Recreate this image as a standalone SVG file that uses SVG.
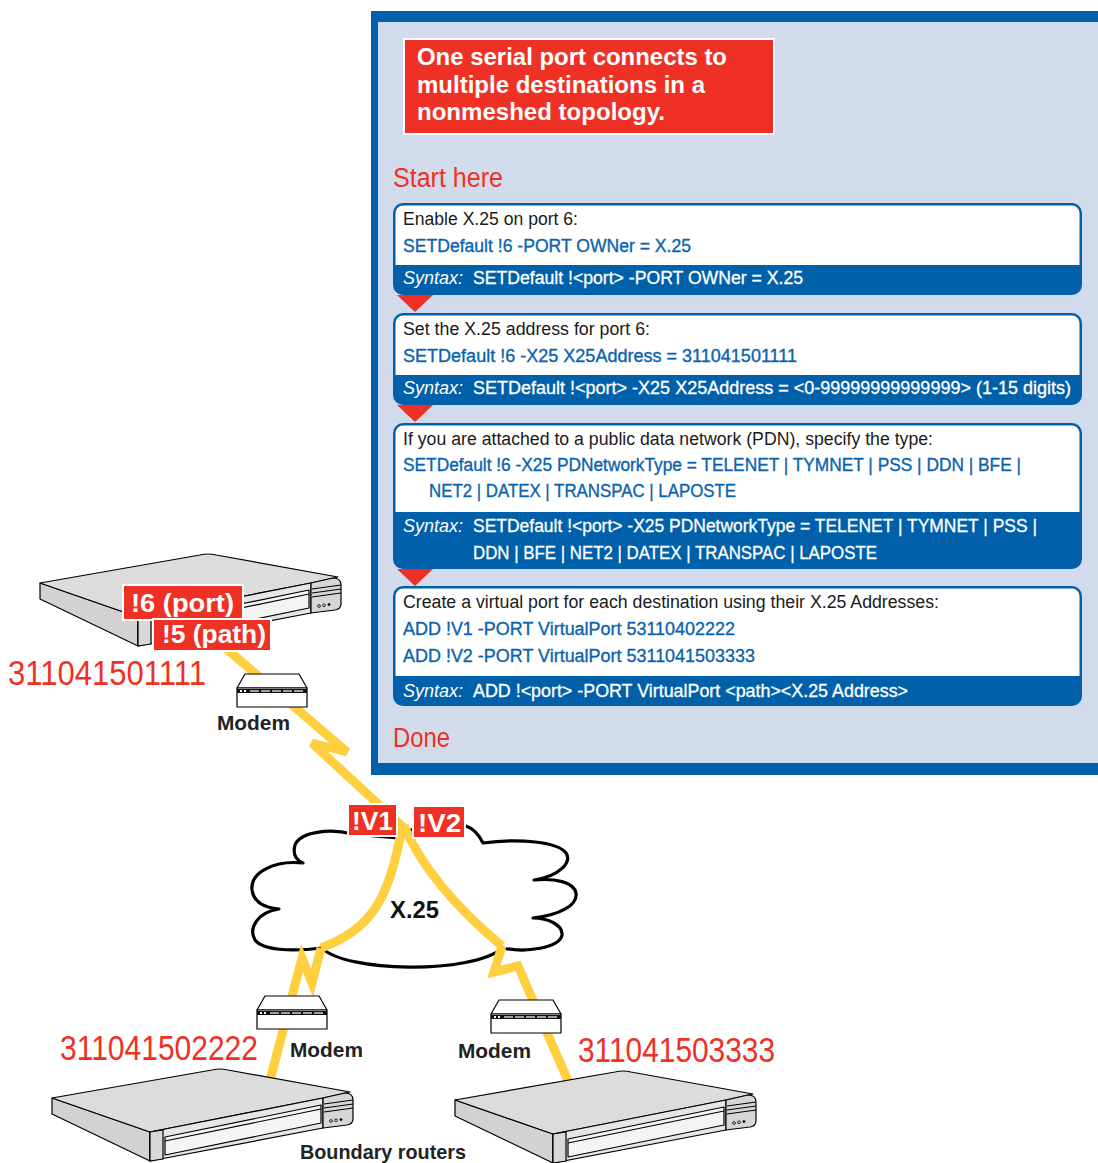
<svg xmlns="http://www.w3.org/2000/svg" width="1098" height="1163" viewBox="0 0 1098 1163">
  <style>
    .sans { font-family: "Liberation Sans", Arial, sans-serif; }
    .step { font-family: "Liberation Sans", Arial, sans-serif; font-size: 18px; fill: #1a1a1a; }
    .code { font-family: "Liberation Sans", Arial, sans-serif; font-size: 18px; fill: #0b63ad; stroke: #0b63ad; stroke-width: 0.35; }
    .syn { font-family: "Liberation Sans", Arial, sans-serif; font-size: 18px; fill: #ffffff; stroke: #ffffff; stroke-width: 0.3; }
    .it { font-style: italic; stroke-width: 0; }
    .boxb { fill: #0061aa; }
    .boxw { fill: #ffffff; }
    .tri { fill: #ee3124; }
    .tag { fill: #ee3124; stroke: #ffffff; stroke-width: 2; }
    .tagtxt { font-family: "Liberation Sans", Arial, sans-serif; font-weight: bold; fill: #ffffff; font-size: 25px; }
    .num { font-family: "Liberation Sans", Arial, sans-serif; fill: #ee3124; font-size: 35px; }
    .lbl { font-family: "Liberation Sans", Arial, sans-serif; font-weight: bold; fill: #222222; font-size: 21px; }
    .bolt { fill: none; stroke: #ffcf40; stroke-width: 9; stroke-linejoin: miter; stroke-linecap: butt; }
    .eq { stroke: #000; stroke-width: 1.2; stroke-linejoin: round; }
  </style>
  <defs>
    <!-- rack-mount router, drawn in place of the lower-left unit -->
    <g id="router-shape">
      <polygon class="eq" fill="#d2d2d2" points="52,1098 150,1132 150,1161 52,1114"/>
      <path class="eq" fill="#dcdcdc" d="M52,1098 L212,1070 Q220,1068 228,1070 L350,1092 L323,1098 L150,1132 Z"/>
      <polygon class="eq" fill="#e6e6e6" points="150,1132 323,1098 323,1128 150,1161"/>
      <polygon class="eq" fill="#d8d8d8" points="150,1132 163,1130 163,1159 150,1161"/>
      <polygon class="eq" fill="#f4f4f4" points="165,1137 321,1105 321,1123 165,1155"/>
      <line class="eq" x1="165" y1="1141" x2="321" y2="1109" stroke-width="0.8"/>
      <path class="eq" fill="#d6d6d6" d="M323,1098 L345,1093 Q353,1093 353,1100 L353,1119 Q353,1124 347,1125 L323,1128 Z"/>
      <line class="eq" x1="324" y1="1104" x2="353" y2="1100" stroke-width="0.8"/>
      <line class="eq" x1="324" y1="1108" x2="353" y2="1104" stroke-width="0.8"/>
      <line class="eq" x1="324" y1="1112" x2="353" y2="1108" stroke-width="0.8"/>
      <circle cx="331" cy="1121" r="1.4" fill="none" stroke="#000" stroke-width="0.8"/>
      <circle cx="336" cy="1120.3" r="1.4" fill="none" stroke="#000" stroke-width="0.8"/>
      <circle cx="341" cy="1119.6" r="1.4" fill="#000"/>
    </g>
    <!-- small modem box -->
    <g id="modem-shape">
      <polygon class="eq" fill="#ffffff" points="257,1010 265,996 319,996 327,1010"/>
      <rect class="eq" fill="#ffffff" x="257" y="1010" width="70" height="19"/>
      <rect x="257" y="1011" width="70" height="4" fill="#111"/>
      <rect x="260" y="1012" width="2" height="2" fill="#fff"/>
      <rect x="264" y="1012" width="2" height="2" fill="#fff"/>
      <rect x="270" y="1012.4" width="9" height="1.2" fill="#fff"/>
      <rect x="281" y="1012.4" width="9" height="1.2" fill="#fff"/>
      <rect x="292" y="1012.4" width="9" height="1.2" fill="#fff"/>
      <rect x="303" y="1012.4" width="9" height="1.2" fill="#fff"/>
      <rect x="314" y="1012.4" width="9" height="1.2" fill="#fff"/>
    </g>
  </defs>

  <rect x="0" y="0" width="1098" height="1163" fill="#ffffff"/>

  <!-- configuration panel -->
  <g id="config-panel">
    <rect x="371" y="11" width="727" height="764" fill="#0061aa"/>
    <rect x="378" y="22" width="720" height="741" fill="#d2dbec"/>

    <g id="title">
      <rect x="404" y="39" width="370" height="95" fill="#ee3124" stroke="#ffffff" stroke-width="2"/>
      <text class="sans" font-weight="bold" font-size="23" fill="#ffffff" x="417" y="65" textLength="310" lengthAdjust="spacingAndGlyphs">One serial port connects to</text>
      <text class="sans" font-weight="bold" font-size="23" fill="#ffffff" x="417" y="93" textLength="288" lengthAdjust="spacingAndGlyphs">multiple destinations in a</text>
      <text class="sans" font-weight="bold" font-size="23" fill="#ffffff" x="417" y="120" textLength="248" lengthAdjust="spacingAndGlyphs">nonmeshed topology.</text>
    </g>

    <text class="sans" font-size="27" fill="#ee3124" x="393" y="187" textLength="110" lengthAdjust="spacingAndGlyphs">Start here</text>

    <g id="step-1">
      <rect class="boxb" x="393" y="203" width="689" height="92" rx="10"/>
      <path class="boxw" d="M395.5,213 A7.5,7.5 0 0 1 403,205.5 H1072 A7.5,7.5 0 0 1 1079.5,213 V265 H395.5 Z"/>
      <text class="step" x="403" y="225" textLength="175" lengthAdjust="spacingAndGlyphs">Enable X.25 on port 6:</text>
      <text class="code" x="403" y="252" textLength="288" lengthAdjust="spacingAndGlyphs">SETDefault !6 -PORT OWNer = X.25</text>
      <text class="syn it" x="403" y="284" textLength="60" lengthAdjust="spacingAndGlyphs">Syntax:</text>
      <text class="syn" x="473" y="284" textLength="330" lengthAdjust="spacingAndGlyphs">SETDefault !&lt;port&gt; -PORT OWNer = X.25</text>
      <polygon class="tri" points="397,295 433,295 415,312"/>
    </g>

    <g id="step-2">
      <rect class="boxb" x="393" y="313" width="689" height="92" rx="10"/>
      <path class="boxw" d="M395.5,323 A7.5,7.5 0 0 1 403,315.5 H1072 A7.5,7.5 0 0 1 1079.5,323 V375 H395.5 Z"/>
      <text class="step" x="403" y="335" textLength="247" lengthAdjust="spacingAndGlyphs">Set the X.25 address for port 6:</text>
      <text class="code" x="403" y="362" textLength="394" lengthAdjust="spacingAndGlyphs">SETDefault !6 -X25 X25Address = 311041501111</text>
      <text class="syn it" x="403" y="394" textLength="60" lengthAdjust="spacingAndGlyphs">Syntax:</text>
      <text class="syn" x="473" y="394" textLength="598" lengthAdjust="spacingAndGlyphs">SETDefault !&lt;port&gt; -X25 X25Address = &lt;0-99999999999999&gt; (1-15 digits)</text>
      <polygon class="tri" points="397,405 433,405 415,422"/>
    </g>

    <g id="step-3">
      <rect class="boxb" x="393" y="423" width="689" height="146" rx="10"/>
      <path class="boxw" d="M395.5,433 A7.5,7.5 0 0 1 403,425.5 H1072 A7.5,7.5 0 0 1 1079.5,433 V512 H395.5 Z"/>
      <text class="step" x="403" y="445" textLength="530" lengthAdjust="spacingAndGlyphs">If you are attached to a public data network (PDN), specify the type:</text>
      <text class="code" x="403" y="471" textLength="618" lengthAdjust="spacingAndGlyphs">SETDefault !6 -X25 PDNetworkType = TELENET | TYMNET | PSS | DDN | BFE |</text>
      <text class="code" x="429" y="497" textLength="307" lengthAdjust="spacingAndGlyphs">NET2 | DATEX | TRANSPAC | LAPOSTE</text>
      <text class="syn it" x="403" y="532" textLength="60" lengthAdjust="spacingAndGlyphs">Syntax:</text>
      <text class="syn" x="473" y="532" textLength="564" lengthAdjust="spacingAndGlyphs">SETDefault !&lt;port&gt; -X25 PDNetworkType = TELENET | TYMNET | PSS |</text>
      <text class="syn" x="473" y="559" textLength="404" lengthAdjust="spacingAndGlyphs">DDN | BFE | NET2 | DATEX | TRANSPAC | LAPOSTE</text>
      <polygon class="tri" points="397,569 433,569 415,586"/>
    </g>

    <g id="step-4">
      <rect class="boxb" x="393" y="586" width="689" height="120" rx="10"/>
      <path class="boxw" d="M395.5,596 A7.5,7.5 0 0 1 403,588.5 H1072 A7.5,7.5 0 0 1 1079.5,596 V676 H395.5 Z"/>
      <text class="step" x="403" y="608" textLength="536" lengthAdjust="spacingAndGlyphs">Create a virtual port for each destination using their X.25 Addresses:</text>
      <text class="code" x="403" y="635" textLength="332" lengthAdjust="spacingAndGlyphs">ADD !V1 -PORT VirtualPort 53110402222</text>
      <text class="code" x="403" y="662" textLength="352" lengthAdjust="spacingAndGlyphs">ADD !V2 -PORT VirtualPort 5311041503333</text>
      <text class="syn it" x="403" y="697" textLength="60" lengthAdjust="spacingAndGlyphs">Syntax:</text>
      <text class="syn" x="473" y="697" textLength="435" lengthAdjust="spacingAndGlyphs">ADD !&lt;port&gt; -PORT VirtualPort &lt;path&gt;&lt;X.25 Address&gt;</text>
    </g>

    <text class="sans" font-size="27" fill="#ee3124" x="393" y="747" textLength="57" lengthAdjust="spacingAndGlyphs">Done</text>
  </g>

  <!-- X.25 network cloud -->
  <g id="x25-cloud">
    <path fill="#ffffff" stroke="#000000" stroke-width="3.2" stroke-linejoin="round"
      d="M352,834 C330,828 300,832 295,845 C292,856 298,861 303,863 C275,860 250,872 252,890 C254,903 266,908 279,909 C258,912 248,928 255,940 C262,950 290,952 322,948 C345,972 470,975 503,948 C525,953 560,948 562,935 C563,925 548,918 533,918 C560,915 578,905 576,893 C574,882 555,878 534,880 C560,876 572,862 566,853 C558,842 520,838 483,843 C478,833 472,828 466,826 L413,829 L398,838 Z"/>
    <text class="sans" font-weight="bold" font-size="23" fill="#111" x="390" y="918" textLength="49" lengthAdjust="spacingAndGlyphs">X.25</text>
  </g>

  <!-- serial links -->
  <g id="connectors">
    <polyline class="bolt" points="222,645 347,752 312,743 404,828"/>
    <path class="bolt" d="M402,826 C390,900 370,930 321,948"/>
    <path class="bolt" d="M404,826 C425,875 465,915 502,946"/>
    <polyline class="bolt" points="321,948 312,983 302,958 268,1088"/>
    <polyline class="bolt" points="502,946 494,972 518,966 572,1090"/>
  </g>

  <!-- modems -->
  <g id="modem-top">
    <use href="#modem-shape" transform="translate(-20,-322)"/>
    <text class="lbl" x="217" y="730" textLength="73" lengthAdjust="spacingAndGlyphs">Modem</text>
  </g>
  <g id="modem-left">
    <use href="#modem-shape"/>
    <text class="lbl" x="290" y="1057" textLength="73" lengthAdjust="spacingAndGlyphs">Modem</text>
  </g>
  <g id="modem-right">
    <use href="#modem-shape" transform="translate(234,4)"/>
    <text class="lbl" x="458" y="1058" textLength="73" lengthAdjust="spacingAndGlyphs">Modem</text>
  </g>

  <!-- routers -->
  <g id="router-top">
    <use href="#router-shape" transform="translate(-12,-515)"/>
    <rect class="tag" x="123" y="585" width="120" height="35"/>
    <text class="tagtxt" x="131" y="612" textLength="103" lengthAdjust="spacingAndGlyphs">!6 (port)</text>
    <rect class="tag" x="153" y="619" width="118" height="32"/>
    <text class="tagtxt" x="162" y="643" textLength="104" lengthAdjust="spacingAndGlyphs">!5 (path)</text>
    <text class="num" x="8" y="685" textLength="198" lengthAdjust="spacingAndGlyphs">311041501111</text>
  </g>
  <g id="router-left">
    <use href="#router-shape"/>
    <text class="num" x="60" y="1060" textLength="198" lengthAdjust="spacingAndGlyphs">311041502222</text>
  </g>
  <g id="router-right">
    <use href="#router-shape" transform="translate(403,2)"/>
    <text class="num" x="578" y="1062" textLength="197" lengthAdjust="spacingAndGlyphs">311041503333</text>
  </g>

  <!-- virtual port tags on the cloud -->
  <g id="vport-1">
    <rect class="tag" x="348" y="804" width="49" height="32"/>
    <text class="tagtxt" x="352" y="830" textLength="41" lengthAdjust="spacingAndGlyphs">!V1</text>
  </g>
  <g id="vport-2">
    <rect class="tag" x="413" y="806" width="52" height="32"/>
    <text class="tagtxt" x="418" y="832" textLength="43" lengthAdjust="spacingAndGlyphs">!V2</text>
  </g>

  <text class="lbl" x="300" y="1159" textLength="166" lengthAdjust="spacingAndGlyphs">Boundary routers</text>
</svg>
